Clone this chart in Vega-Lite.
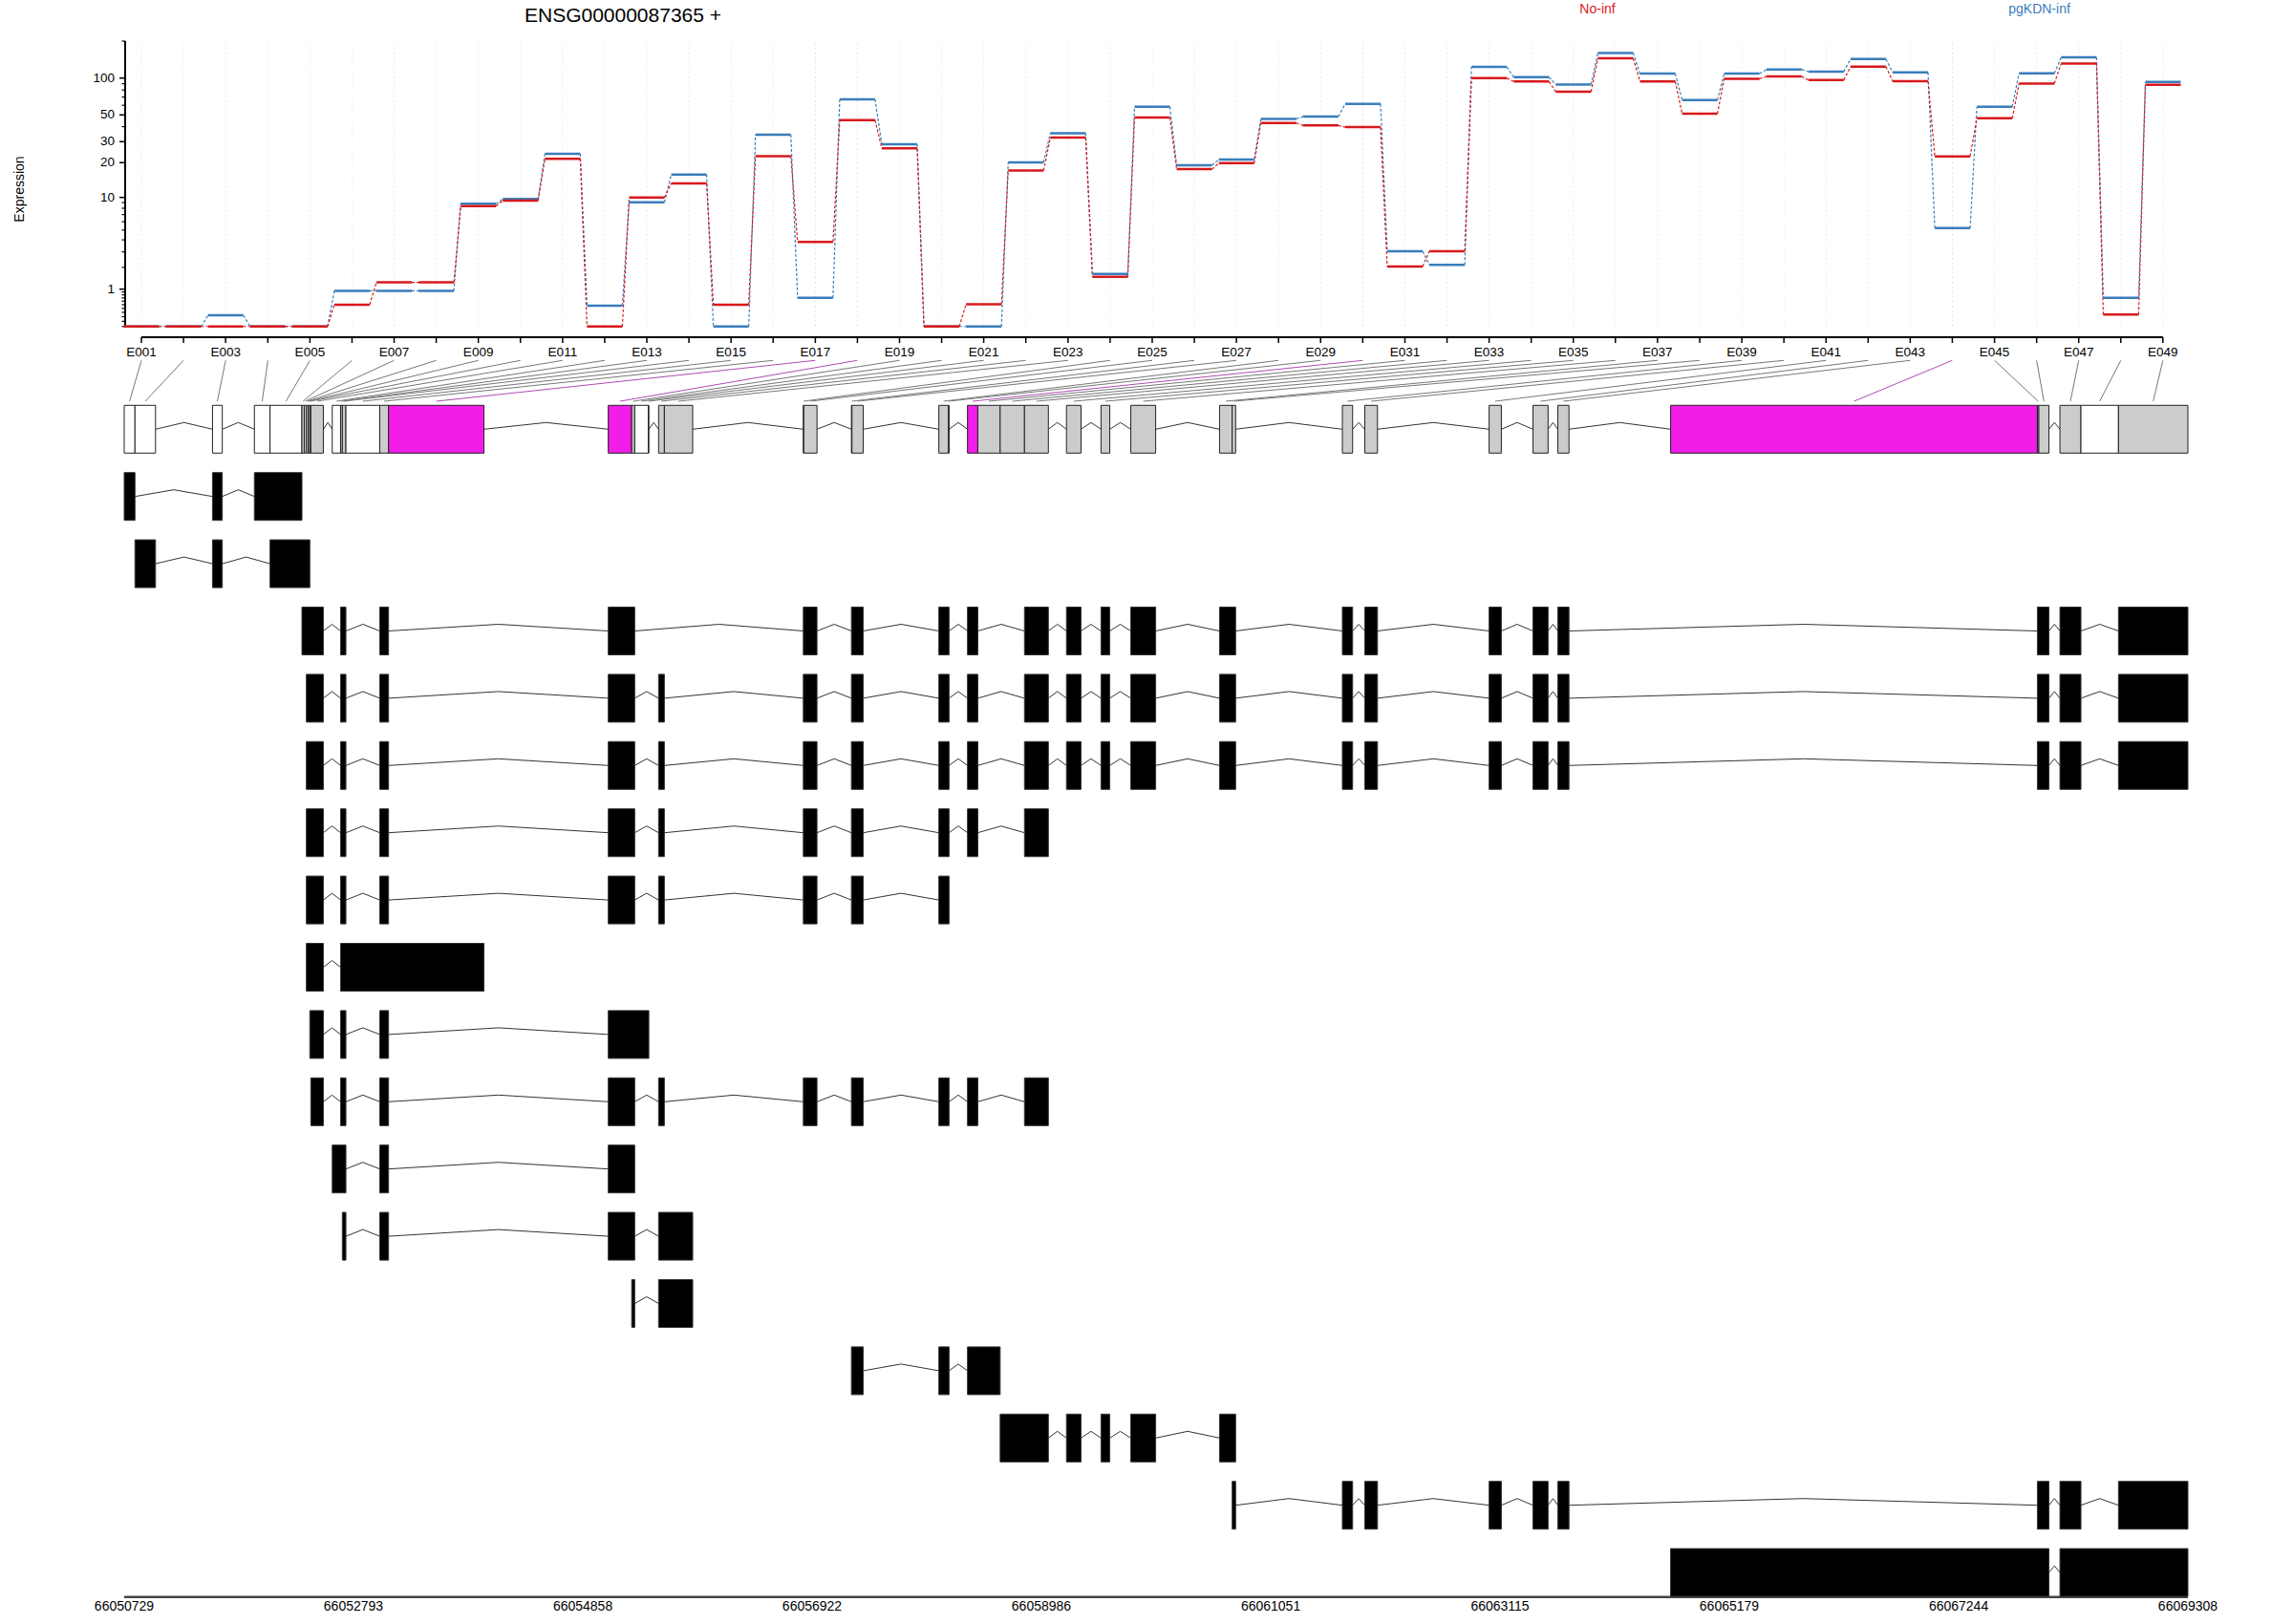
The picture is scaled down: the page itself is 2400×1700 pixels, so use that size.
{
  "$schema": "https://vega.github.io/schema/vega-lite/v6.json",
  "width": 2400,
  "height": 1700,
  "autosize": "none",
  "padding": 0,
  "background": "white",
  "config": {"view": {"stroke": null}, "font": "Liberation Sans"},
  "datasets": {
    "expr": [
      {"i":1,"c":"pgKDN-inf","v":0},{"i":2,"c":"pgKDN-inf","v":0},{"i":3,"c":"pgKDN-inf","v":0.23},{"i":4,"c":"pgKDN-inf","v":0},{"i":5,"c":"pgKDN-inf","v":0},
      {"i":6,"c":"pgKDN-inf","v":0.94},{"i":7,"c":"pgKDN-inf","v":0.94},{"i":8,"c":"pgKDN-inf","v":0.94},{"i":9,"c":"pgKDN-inf","v":8.77},{"i":10,"c":"pgKDN-inf","v":9.68},
      {"i":11,"c":"pgKDN-inf","v":23.7},{"i":12,"c":"pgKDN-inf","v":0.47},{"i":13,"c":"pgKDN-inf","v":9.06},{"i":14,"c":"pgKDN-inf","v":15.8},{"i":15,"c":"pgKDN-inf","v":0},
      {"i":16,"c":"pgKDN-inf","v":34.3},{"i":17,"c":"pgKDN-inf","v":0.7},{"i":18,"c":"pgKDN-inf","v":67.0},{"i":19,"c":"pgKDN-inf","v":28.5},{"i":20,"c":"pgKDN-inf","v":0},
      {"i":21,"c":"pgKDN-inf","v":0},{"i":22,"c":"pgKDN-inf","v":20.1},{"i":23,"c":"pgKDN-inf","v":35.3},{"i":24,"c":"pgKDN-inf","v":1.66},{"i":25,"c":"pgKDN-inf","v":58.3},
      {"i":26,"c":"pgKDN-inf","v":19.0},{"i":27,"c":"pgKDN-inf","v":21.2},{"i":28,"c":"pgKDN-inf","v":46.4},{"i":29,"c":"pgKDN-inf","v":48.4},{"i":30,"c":"pgKDN-inf","v":61.6},
      {"i":31,"c":"pgKDN-inf","v":3.05},{"i":32,"c":"pgKDN-inf","v":2.14},{"i":33,"c":"pgKDN-inf","v":123.3},{"i":34,"c":"pgKDN-inf","v":101.8},{"i":35,"c":"pgKDN-inf","v":88.8},
      {"i":36,"c":"pgKDN-inf","v":160.3},{"i":37,"c":"pgKDN-inf","v":108.8},{"i":38,"c":"pgKDN-inf","v":66.1},{"i":39,"c":"pgKDN-inf","v":108.8},{"i":40,"c":"pgKDN-inf","v":117.5},
      {"i":41,"c":"pgKDN-inf","v":112.8},{"i":42,"c":"pgKDN-inf","v":143},{"i":43,"c":"pgKDN-inf","v":111.4},{"i":44,"c":"pgKDN-inf","v":5.23},{"i":45,"c":"pgKDN-inf","v":58.3},
      {"i":46,"c":"pgKDN-inf","v":109.4},{"i":47,"c":"pgKDN-inf","v":147.5},{"i":48,"c":"pgKDN-inf","v":0.7},{"i":49,"c":"pgKDN-inf","v":93.1},
      {"i":1,"c":"No-inf","v":0},{"i":2,"c":"No-inf","v":0},{"i":3,"c":"No-inf","v":0},{"i":4,"c":"No-inf","v":0},{"i":5,"c":"No-inf","v":0},
      {"i":6,"c":"No-inf","v":0.5},{"i":7,"c":"No-inf","v":1.27},{"i":8,"c":"No-inf","v":1.27},{"i":9,"c":"No-inf","v":8.37},{"i":10,"c":"No-inf","v":9.37},
      {"i":11,"c":"No-inf","v":21.5},{"i":12,"c":"No-inf","v":0},{"i":13,"c":"No-inf","v":9.99},{"i":14,"c":"No-inf","v":13.3},{"i":15,"c":"No-inf","v":0.5},
      {"i":16,"c":"No-inf","v":22.7},{"i":17,"c":"No-inf","v":3.81},{"i":18,"c":"No-inf","v":45.3},{"i":19,"c":"No-inf","v":26.4},{"i":20,"c":"No-inf","v":0},
      {"i":21,"c":"No-inf","v":0.51},{"i":22,"c":"No-inf","v":17.1},{"i":23,"c":"No-inf","v":32.4},{"i":24,"c":"No-inf","v":1.52},{"i":25,"c":"No-inf","v":47.5},
      {"i":26,"c":"No-inf","v":17.6},{"i":27,"c":"No-inf","v":19.8},{"i":28,"c":"No-inf","v":42.9},{"i":29,"c":"No-inf","v":40.9},{"i":30,"c":"No-inf","v":39.6},
      {"i":31,"c":"No-inf","v":2.05},{"i":32,"c":"No-inf","v":3.05},{"i":33,"c":"No-inf","v":100.0},{"i":34,"c":"No-inf","v":93.8},{"i":35,"c":"No-inf","v":77.4},
      {"i":36,"c":"No-inf","v":144.8},{"i":37,"c":"No-inf","v":93.8},{"i":38,"c":"No-inf","v":51.1},{"i":39,"c":"No-inf","v":98.9},{"i":40,"c":"No-inf","v":103.1},
      {"i":41,"c":"No-inf","v":96.5},{"i":42,"c":"No-inf","v":124},{"i":43,"c":"No-inf","v":94.3},{"i":44,"c":"No-inf","v":22.6},{"i":45,"c":"No-inf","v":46.9},
      {"i":46,"c":"No-inf","v":90.4},{"i":47,"c":"No-inf","v":131.7},{"i":48,"c":"No-inf","v":0.25},{"i":49,"c":"No-inf","v":88.2}
    ],
    "yticks": [
      {"v":0,"lab":""},{"v":0.1,"lab":""},{"v":0.2,"lab":""},{"v":0.3,"lab":""},{"v":0.4,"lab":""},{"v":0.5,"lab":""},{"v":0.6,"lab":""},{"v":0.7,"lab":""},{"v":0.8,"lab":""},{"v":0.9,"lab":""},
      {"v":1,"lab":"1"},{"v":2,"lab":""},{"v":3,"lab":""},{"v":4,"lab":""},{"v":5,"lab":""},{"v":6,"lab":""},{"v":7,"lab":""},{"v":8,"lab":""},{"v":9,"lab":""},
      {"v":10,"lab":"10"},{"v":20,"lab":"20"},{"v":30,"lab":"30"},{"v":40,"lab":""},{"v":50,"lab":"50"},{"v":60,"lab":""},{"v":70,"lab":""},{"v":80,"lab":""},{"v":90,"lab":""},
      {"v":100,"lab":"100"},{"v":200,"lab":""}
    ],
    "gticks": [
      {"g":66050729},{"g":66052793},{"g":66054858},{"g":66056922},{"g":66058986},{"g":66061051},{"g":66063115},{"g":66065179},{"g":66067244},{"g":66069308}
    ],
    "bins": [
      {"id":"E001","i":1,"s":66050729,"e":66050826,"lg":66050884,"st":"na"},
      {"id":"E002","i":2,"s":66050826,"e":66051011,"lg":66051263,"st":"na"},
      {"id":"E003","i":3,"s":66051524,"e":66051612,"lg":66051642,"st":"na"},
      {"id":"E004","i":4,"s":66051901,"e":66052042,"lg":66052022,"st":"na"},
      {"id":"E005","i":5,"s":66052042,"e":66052329,"lg":66052401,"st":"na"},
      {"id":"E006","i":6,"s":66052329,"e":66052350,"lg":66052780,"st":"ns"},
      {"id":"E007","i":7,"s":66052350,"e":66052369,"lg":66053159,"st":"ns"},
      {"id":"E008","i":8,"s":66052369,"e":66052385,"lg":66053538,"st":"ns"},
      {"id":"E009","i":9,"s":66052385,"e":66052400,"lg":66053917,"st":"ns"},
      {"id":"E010","i":10,"s":66052400,"e":66052409,"lg":66054296,"st":"ns"},
      {"id":"E011","i":11,"s":66052409,"e":66052522,"lg":66054676,"st":"ns"},
      {"id":"E012","i":12,"s":66052602,"e":66052677,"lg":66055055,"st":"na"},
      {"id":"E013","i":13,"s":66052677,"e":66052693,"lg":66055434,"st":"ns"},
      {"id":"E014","i":14,"s":66052693,"e":66052725,"lg":66055813,"st":"ns"},
      {"id":"E015","i":15,"s":66052725,"e":66053030,"lg":66056192,"st":"na"},
      {"id":"E016","i":16,"s":66053030,"e":66053109,"lg":66056571,"st":"ns"},
      {"id":"E017","i":17,"s":66053109,"e":66053968,"lg":66056951,"st":"sig"},
      {"id":"E018","i":18,"s":66055087,"e":66055298,"lg":66057330,"st":"sig"},
      {"id":"E019","i":19,"s":66055298,"e":66055325,"lg":66057709,"st":"ns"},
      {"id":"E020","i":20,"s":66055325,"e":66055448,"lg":66058088,"st":"na"},
      {"id":"E021","i":21,"s":66055448,"e":66055452,"lg":66058467,"st":"na"},
      {"id":"E022","i":22,"s":66055540,"e":66055592,"lg":66058846,"st":"ns"},
      {"id":"E023","i":23,"s":66055592,"e":66055847,"lg":66059226,"st":"ns"},
      {"id":"E024","i":24,"s":66056843,"e":66056847,"lg":66059605,"st":"ns"},
      {"id":"E025","i":25,"s":66056847,"e":66056966,"lg":66059984,"st":"ns"},
      {"id":"E026","i":26,"s":66057276,"e":66057281,"lg":66060363,"st":"ns"},
      {"id":"E027","i":27,"s":66057281,"e":66057382,"lg":66060742,"st":"ns"},
      {"id":"E028","i":28,"s":66058063,"e":66058150,"lg":66061121,"st":"ns"},
      {"id":"E029","i":29,"s":66058150,"e":66058155,"lg":66061500,"st":"ns"},
      {"id":"E030","i":30,"s":66058321,"e":66058414,"lg":66061879,"st":"sig"},
      {"id":"E031","i":31,"s":66058414,"e":66058615,"lg":66062259,"st":"ns"},
      {"id":"E032","i":32,"s":66058615,"e":66058834,"lg":66062638,"st":"ns"},
      {"id":"E033","i":33,"s":66058834,"e":66059049,"lg":66063017,"st":"ns"},
      {"id":"E034","i":34,"s":66059212,"e":66059343,"lg":66063396,"st":"ns"},
      {"id":"E035","i":35,"s":66059523,"e":66059602,"lg":66063775,"st":"ns"},
      {"id":"E036","i":36,"s":66059791,"e":66060015,"lg":66064154,"st":"ns"},
      {"id":"E037","i":37,"s":66060590,"e":66060704,"lg":66064533,"st":"ns"},
      {"id":"E038","i":38,"s":66060704,"e":66060735,"lg":66064913,"st":"ns"},
      {"id":"E039","i":39,"s":66061696,"e":66061788,"lg":66065292,"st":"ns"},
      {"id":"E040","i":40,"s":66061898,"e":66062012,"lg":66065671,"st":"ns"},
      {"id":"E041","i":41,"s":66063017,"e":66063127,"lg":66066050,"st":"ns"},
      {"id":"E042","i":42,"s":66063412,"e":66063548,"lg":66066429,"st":"ns"},
      {"id":"E043","i":43,"s":66063636,"e":66063736,"lg":66066808,"st":"ns"},
      {"id":"E044","i":44,"s":66064651,"e":66067953,"lg":66067187,"st":"sig"},
      {"id":"E045","i":45,"s":66067953,"e":66067966,"lg":66067567,"st":"ns"},
      {"id":"E046","i":46,"s":66067966,"e":66068057,"lg":66067946,"st":"ns"},
      {"id":"E047","i":47,"s":66068156,"e":66068345,"lg":66068325,"st":"ns"},
      {"id":"E048","i":48,"s":66068345,"e":66068683,"lg":66068704,"st":"na"},
      {"id":"E049","i":49,"s":66068683,"e":66069308,"lg":66069083,"st":"ns"}
    ],
    "tx": [
      {"t":1,"s":66050729,"e":66050826},{"t":1,"s":66051524,"e":66051612},{"t":1,"s":66051901,"e":66052329},
      {"t":2,"s":66050826,"e":66051011},{"t":2,"s":66051524,"e":66051612},{"t":2,"s":66052042,"e":66052400},
      {"t":3,"s":66052329,"e":66052522},{"t":3,"s":66052677,"e":66052725},{"t":3,"s":66053030,"e":66053109},{"t":3,"s":66055087,"e":66055325},{"t":3,"s":66056843,"e":66056966},{"t":3,"s":66057276,"e":66057382},{"t":3,"s":66058063,"e":66058155},{"t":3,"s":66058321,"e":66058414},{"t":3,"s":66058834,"e":66059049},{"t":3,"s":66059212,"e":66059343},{"t":3,"s":66059523,"e":66059602},{"t":3,"s":66059791,"e":66060015},{"t":3,"s":66060590,"e":66060735},{"t":3,"s":66061696,"e":66061788},{"t":3,"s":66061898,"e":66062012},{"t":3,"s":66063017,"e":66063127},{"t":3,"s":66063412,"e":66063548},{"t":3,"s":66063636,"e":66063736},{"t":3,"s":66067953,"e":66068057},{"t":3,"s":66068156,"e":66068345},{"t":3,"s":66068683,"e":66069308},
      {"t":4,"s":66052369,"e":66052522},{"t":4,"s":66052677,"e":66052725},{"t":4,"s":66053030,"e":66053109},{"t":4,"s":66055087,"e":66055325},{"t":4,"s":66055540,"e":66055592},{"t":4,"s":66056843,"e":66056966},{"t":4,"s":66057276,"e":66057382},{"t":4,"s":66058063,"e":66058155},{"t":4,"s":66058321,"e":66058414},{"t":4,"s":66058834,"e":66059049},{"t":4,"s":66059212,"e":66059343},{"t":4,"s":66059523,"e":66059602},{"t":4,"s":66059791,"e":66060015},{"t":4,"s":66060590,"e":66060735},{"t":4,"s":66061696,"e":66061788},{"t":4,"s":66061898,"e":66062012},{"t":4,"s":66063017,"e":66063127},{"t":4,"s":66063412,"e":66063548},{"t":4,"s":66063636,"e":66063736},{"t":4,"s":66067953,"e":66068057},{"t":4,"s":66068156,"e":66068345},{"t":4,"s":66068683,"e":66069308},
      {"t":5,"s":66052369,"e":66052522},{"t":5,"s":66052677,"e":66052725},{"t":5,"s":66053030,"e":66053109},{"t":5,"s":66055087,"e":66055325},{"t":5,"s":66055540,"e":66055592},{"t":5,"s":66056843,"e":66056966},{"t":5,"s":66057276,"e":66057382},{"t":5,"s":66058063,"e":66058155},{"t":5,"s":66058321,"e":66058414},{"t":5,"s":66058834,"e":66059049},{"t":5,"s":66059212,"e":66059343},{"t":5,"s":66059523,"e":66059602},{"t":5,"s":66059791,"e":66060015},{"t":5,"s":66060590,"e":66060735},{"t":5,"s":66061696,"e":66061788},{"t":5,"s":66061898,"e":66062012},{"t":5,"s":66063017,"e":66063127},{"t":5,"s":66063412,"e":66063548},{"t":5,"s":66063636,"e":66063736},{"t":5,"s":66067953,"e":66068057},{"t":5,"s":66068156,"e":66068345},{"t":5,"s":66068683,"e":66069308},
      {"t":6,"s":66052369,"e":66052522},{"t":6,"s":66052677,"e":66052725},{"t":6,"s":66053030,"e":66053109},{"t":6,"s":66055087,"e":66055325},{"t":6,"s":66055540,"e":66055592},{"t":6,"s":66056843,"e":66056966},{"t":6,"s":66057276,"e":66057382},{"t":6,"s":66058063,"e":66058155},{"t":6,"s":66058321,"e":66058414},{"t":6,"s":66058834,"e":66059049},
      {"t":7,"s":66052369,"e":66052522},{"t":7,"s":66052677,"e":66052725},{"t":7,"s":66053030,"e":66053109},{"t":7,"s":66055087,"e":66055325},{"t":7,"s":66055540,"e":66055592},{"t":7,"s":66056843,"e":66056966},{"t":7,"s":66057276,"e":66057382},{"t":7,"s":66058063,"e":66058155},
      {"t":8,"s":66052369,"e":66052522},{"t":8,"s":66052677,"e":66053968},
      {"t":9,"s":66052400,"e":66052522},{"t":9,"s":66052677,"e":66052725},{"t":9,"s":66053030,"e":66053109},{"t":9,"s":66055087,"e":66055452},
      {"t":10,"s":66052409,"e":66052522},{"t":10,"s":66052677,"e":66052725},{"t":10,"s":66053030,"e":66053109},{"t":10,"s":66055087,"e":66055325},{"t":10,"s":66055540,"e":66055592},{"t":10,"s":66056843,"e":66056966},{"t":10,"s":66057276,"e":66057382},{"t":10,"s":66058063,"e":66058155},{"t":10,"s":66058321,"e":66058414},{"t":10,"s":66058834,"e":66059049},
      {"t":11,"s":66052602,"e":66052725},{"t":11,"s":66053030,"e":66053109},{"t":11,"s":66055087,"e":66055325},
      {"t":12,"s":66052693,"e":66052725},{"t":12,"s":66053030,"e":66053109},{"t":12,"s":66055087,"e":66055325},{"t":12,"s":66055540,"e":66055847},
      {"t":13,"s":66055298,"e":66055325},{"t":13,"s":66055540,"e":66055847},
      {"t":14,"s":66057276,"e":66057382},{"t":14,"s":66058063,"e":66058155},{"t":14,"s":66058321,"e":66058615},
      {"t":15,"s":66058615,"e":66059049},{"t":15,"s":66059212,"e":66059343},{"t":15,"s":66059523,"e":66059602},{"t":15,"s":66059791,"e":66060015},{"t":15,"s":66060590,"e":66060735},
      {"t":16,"s":66060704,"e":66060735},{"t":16,"s":66061696,"e":66061788},{"t":16,"s":66061898,"e":66062012},{"t":16,"s":66063017,"e":66063127},{"t":16,"s":66063412,"e":66063548},{"t":16,"s":66063636,"e":66063736},{"t":16,"s":66067953,"e":66068057},{"t":16,"s":66068156,"e":66068345},{"t":16,"s":66068683,"e":66069308},
      {"t":17,"s":66064651,"e":66068057},{"t":17,"s":66068156,"e":66069308}
    ]
  },
  "layer": [
    {
      "layer": [
        {
          "data": {"name": "bins"},
          "mark": {"type": "rule", "strokeDash": [2, 3], "strokeWidth": 1},
          "encoding": {
            "x": {"field": "i", "type": "quantitative", "scale": {"domain": [1, 49], "range": [148, 2264], "nice": false, "zero": false}, "axis": null},
            "y": {"datum": 0, "type": "quantitative", "scale": {"type": "symlog", "domain": [0, 200], "range": [341.76, 43], "nice": false, "zero": false}, "axis": null},
            "y2": {"datum": 200},
            "stroke": {"condition": {"test": "datum.st === 'sig'", "value": "#f6d3f3"}, "value": "#ebebeb"}
          }
        },
        {
          "data": {"name": "yticks"},
          "transform": [{"aggregate": [{"op": "min", "field": "v", "as": "lo"}, {"op": "max", "field": "v", "as": "hi"}]}],
          "mark": {"type": "rule", "strokeWidth": 2, "color": "#000"},
          "encoding": {
            "x": {"datum": 0.6144, "type": "quantitative"},
            "y": {"field": "lo", "type": "quantitative"},
            "y2": {"field": "hi"}
          }
        },
        {
          "data": {"name": "yticks"},
          "transform": [{"filter": "datum.lab !== ''"}],
          "mark": {"type": "rule", "strokeWidth": 1.5, "color": "#000", "x2Offset": -6},
          "encoding": {
            "x": {"datum": 0.6144, "type": "quantitative"},
            "x2": {"datum": 0.6144},
            "y": {"field": "v", "type": "quantitative"}
          }
        },
        {
          "data": {"name": "yticks"},
          "transform": [{"filter": "datum.lab === ''"}],
          "mark": {"type": "rule", "strokeWidth": 1.2, "color": "#000", "x2Offset": -3.5},
          "encoding": {
            "x": {"datum": 0.6144, "type": "quantitative"},
            "x2": {"datum": 0.6144},
            "y": {"field": "v", "type": "quantitative"}
          }
        },
        {
          "data": {"name": "yticks"},
          "transform": [{"filter": "datum.lab !== ''"}],
          "mark": {"type": "text", "font": "Liberation Sans", "fontSize": 13.5, "align": "right", "baseline": "middle", "dx": -11, "color": "#000"},
          "encoding": {
            "x": {"datum": 0.6144, "type": "quantitative"},
            "y": {"field": "v", "type": "quantitative"},
            "text": {"field": "lab"}
          }
        },
        {
          "data": {"values": [{"label": "Expression"}]},
          "mark": {"type": "text", "font": "Liberation Sans", "fontSize": 14, "align": "center", "baseline": "middle", "angle": 270, "color": "#000"},
          "encoding": {
            "x": {"datum": -1.881, "type": "quantitative"},
            "y": {"datum": 11.83, "type": "quantitative"},
            "text": {"field": "label"}
          }
        },
        {
          "data": {"name": "expr"},
          "transform": [
            {"window": [{"op": "lead", "field": "i", "as": "ni"}, {"op": "lead", "field": "v", "as": "nv"}], "groupby": ["c"], "sort": [{"field": "i", "order": "ascending"}]},
            {"filter": "datum.ni != null"}
          ],
          "mark": {"type": "rule", "strokeDash": [3, 2], "strokeWidth": 1.2, "xOffset": 18.5, "x2Offset": -18.5},
          "encoding": {
            "x": {"field": "i", "type": "quantitative"},
            "x2": {"field": "ni"},
            "y": {"field": "v", "type": "quantitative"},
            "y2": {"field": "nv"},
            "stroke": {"condition": {"test": "datum.c === 'No-inf'", "value": "#D7191C"}, "value": "#3A7DBB"}
          }
        },
        {
          "data": {"name": "expr"},
          "mark": {"type": "rule", "strokeWidth": 2.5, "strokeCap": "butt", "xOffset": -18.5, "x2Offset": 18.5},
          "encoding": {
            "x": {"field": "i", "type": "quantitative"},
            "x2": {"field": "i"},
            "y": {"field": "v", "type": "quantitative"},
            "stroke": {"condition": {"test": "datum.c === 'No-inf'", "value": "#D7191C"}, "value": "#3A7DBB"}
          }
        },
        {
          "data": {"values": [{"label": "ENSG00000087365 +"}]},
          "mark": {"type": "text", "font": "Liberation Sans", "fontSize": 21, "align": "center", "baseline": "alphabetic", "color": "#000"},
          "encoding": {
            "x": {"datum": 12.433, "type": "quantitative"},
            "y": {"datum": 287.2, "type": "quantitative"},
            "text": {"field": "label"}
          }
        },
        {
          "data": {"values": [{"label": "No-inf"}]},
          "mark": {"type": "text", "font": "Liberation Sans", "fontSize": 14, "align": "center", "baseline": "alphabetic", "color": "#D7191C"},
          "encoding": {
            "x": {"datum": 35.571, "type": "quantitative"},
            "y": {"datum": 335.3, "type": "quantitative"},
            "text": {"field": "label"}
          }
        },
        {
          "data": {"values": [{"label": "pgKDN-inf"}]},
          "mark": {"type": "text", "font": "Liberation Sans", "fontSize": 14, "align": "center", "baseline": "alphabetic", "color": "#3A7DBB"},
          "encoding": {
            "x": {"datum": 46.063, "type": "quantitative"},
            "y": {"datum": 335.3, "type": "quantitative"},
            "text": {"field": "label"}
          }
        }
      ]
    },
    {
      "layer": [
        {
          "data": {"name": "bins"},
          "transform": [
            {"fold": ["s", "e"]},
            {"aggregate": [{"op": "mean", "field": "value", "as": "m"}], "groupby": ["id", "lg", "st"]}
          ],
          "mark": {"type": "rule", "strokeWidth": 1},
          "encoding": {
            "x": {"field": "lg", "type": "quantitative", "scale": {"domain": [66050729, 66069308], "range": [130, 2290], "nice": false, "zero": false}, "axis": null},
            "x2": {"field": "m"},
            "y": {"datum": -1.023, "type": "quantitative", "scale": {"domain": [0, 17], "range": [449.3, 1646.1], "nice": false, "zero": false}, "axis": null},
            "y2": {"datum": -0.416},
            "stroke": {"condition": {"test": "datum.st === 'sig'", "value": "#B04AB0"}, "value": "#777777"}
          }
        },
        {
          "data": {"name": "bins"},
          "transform": [{"aggregate": [{"op": "min", "field": "lg", "as": "a"}, {"op": "max", "field": "lg", "as": "b"}]}],
          "mark": {"type": "rule", "strokeWidth": 2, "color": "#000"},
          "encoding": {
            "x": {"field": "a", "type": "quantitative"},
            "x2": {"field": "b"},
            "y": {"datum": -1.368, "type": "quantitative"}
          }
        },
        {
          "data": {"name": "bins"},
          "mark": {"type": "rule", "strokeWidth": 1.5, "color": "#000", "y2Offset": 6},
          "encoding": {
            "x": {"field": "lg", "type": "quantitative"},
            "y": {"datum": -1.368, "type": "quantitative"},
            "y2": {"datum": -1.368}
          }
        },
        {
          "data": {"name": "bins"},
          "transform": [{"filter": "datum.i % 2 === 1"}],
          "mark": {"type": "text", "font": "Liberation Sans", "fontSize": 13.5, "align": "center", "baseline": "alphabetic", "dy": 20.3, "color": "#000"},
          "encoding": {
            "x": {"field": "lg", "type": "quantitative"},
            "y": {"datum": -1.368, "type": "quantitative"},
            "text": {"field": "id"}
          }
        },
        {
          "data": {"name": "bins"},
          "transform": [
            {"window": [{"op": "lead", "field": "s", "as": "ns"}], "sort": [{"field": "s", "order": "ascending"}]},
            {"filter": "datum.ns != null && datum.ns > datum.e"},
            {"fold": ["e", "ns"]},
            {"joinaggregate": [{"op": "mean", "field": "value", "as": "m"}], "groupby": ["id"]}
          ],
          "mark": {"type": "rule", "strokeWidth": 1, "color": "#333333", "y2Offset": -7},
          "encoding": {
            "x": {"field": "value", "type": "quantitative"},
            "x2": {"field": "m"},
            "y": {"datum": 0, "type": "quantitative"},
            "y2": {"datum": 0}
          }
        },
        {
          "data": {"name": "bins"},
          "mark": {"type": "rect", "stroke": "#222222", "strokeWidth": 1, "yOffset": -25, "y2Offset": 25},
          "encoding": {
            "x": {"field": "s", "type": "quantitative"},
            "x2": {"field": "e"},
            "y": {"datum": 0, "type": "quantitative"},
            "y2": {"datum": 0},
            "fill": {"condition": [{"test": "datum.st === 'sig'", "value": "#F21DE9"}, {"test": "datum.st === 'ns'", "value": "#CCCCCC"}], "value": "#FFFFFF"}
          }
        },
        {
          "data": {"name": "tx"},
          "transform": [
            {"window": [{"op": "lead", "field": "s", "as": "ns"}], "groupby": ["t"], "sort": [{"field": "s", "order": "ascending"}]},
            {"filter": "datum.ns != null && datum.ns > datum.e"},
            {"fold": ["e", "ns"]},
            {"joinaggregate": [{"op": "mean", "field": "value", "as": "m"}], "groupby": ["t", "s"]}
          ],
          "mark": {"type": "rule", "strokeWidth": 1, "color": "#333333", "y2Offset": -7},
          "encoding": {
            "x": {"field": "value", "type": "quantitative"},
            "x2": {"field": "m"},
            "y": {"field": "t", "type": "quantitative"},
            "y2": {"field": "t"}
          }
        },
        {
          "data": {"name": "gticks"},
          "transform": [{"aggregate": [{"op": "min", "field": "g", "as": "a"}, {"op": "max", "field": "g", "as": "b"}]}],
          "mark": {"type": "rule", "strokeWidth": 2.5, "color": "#444444"},
          "encoding": {
            "x": {"field": "a", "type": "quantitative"},
            "x2": {"field": "b"},
            "y": {"datum": 17.366, "type": "quantitative"}
          }
        },
        {
          "data": {"name": "tx"},
          "mark": {"type": "rect", "fill": "#000000", "stroke": "#333333", "strokeWidth": 1, "yOffset": -25, "y2Offset": 25},
          "encoding": {
            "x": {"field": "s", "type": "quantitative"},
            "x2": {"field": "e"},
            "y": {"field": "t", "type": "quantitative"},
            "y2": {"field": "t"}
          }
        },
        {
          "data": {"name": "gticks"},
          "mark": {"type": "text", "font": "Liberation Sans", "fontSize": 14, "align": "center", "baseline": "alphabetic", "dy": 14, "color": "#000"},
          "encoding": {
            "x": {"field": "g", "type": "quantitative"},
            "y": {"datum": 17.366, "type": "quantitative"},
            "text": {"field": "g", "type": "quantitative", "format": "d"}
          }
        }
      ]
    }
  ],
  "resolve": {"scale": {"x": "independent", "y": "independent"}}
}
